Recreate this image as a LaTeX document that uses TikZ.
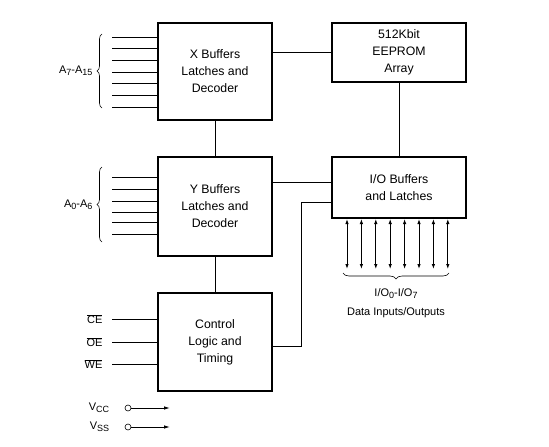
\documentclass[tikz,border=0pt]{standalone}
\usepackage{fontspec}
\setmainfont{Liberation Sans}
\usetikzlibrary{arrows.meta,positioning,calc,decorations.pathreplacing}
\newcommand{\sbs}[1]{\raisebox{-2pt}{\fontsize{9}{9}\selectfont #1}}

\begin{document}
\begin{tikzpicture}[x=1pt,y=-1pt,
  every node/.style={font=\fontsize{11}{13}\selectfont},
  blk/.style={draw,line width=2pt,align=center,inner sep=0pt,
    font=\fontsize{12.3}{17}\selectfont},
  wire/.style={line width=0.9pt},
  bus/.style={{Latex[length=5pt,width=3.5pt]}-{Latex[length=5pt,width=3.5pt]},line width=0.9pt},
  pwr/.style={-{Latex[length=6pt,width=3.5pt]},line width=0.9pt},
  brc/.style={decorate,decoration={brace,amplitude=5pt},line width=0.6pt}]
\useasboundingbox (0,0) rectangle (549,447);
% blocks
\node[blk,minimum width=114pt,minimum height=97pt] (xbuf) at (215,71.5) {X Buffers\\Latches and\\Decoder};
\node[blk,minimum width=114pt,minimum height=99pt] (ybuf) at (215,206.5) {Y Buffers\\Latches and\\Decoder};
\node[blk,minimum width=114pt,minimum height=98pt] (ctrl) at (215,342) {Control\\Logic and\\Timing};
\node[blk,minimum width=134pt,minimum height=59pt] (rom) at (399,52.5) {512Kbit\\EEPROM\\Array};
\node[blk,minimum width=134pt,minimum height=61pt] (iobuf) at (399,187.5) {I/O Buffers\\and Latches};
% links between blocks
\draw[wire] (rom.west) -- (rom.west -| xbuf.east);
\draw[wire] (xbuf.south) -- (ybuf.north);
\draw[wire] (ybuf.south) -- (ctrl.north);
\draw[wire] (rom.south) -- (iobuf.north);
\coordinate (ioa) at ([yshift=5.5pt]iobuf.west);
\coordinate (iob) at ([yshift=-14.5pt]iobuf.west);
\coordinate (cte) at ([yshift=-4pt]ctrl.east);
\draw[wire] (ioa) -- (ioa -| ybuf.east);
\draw[wire] (iob) -- ++(-30,0) |- (cte);
% address inputs
\foreach \y in {37,48.7,60.3,72,83.7,95.3,107}
  \draw[wire] (xbuf.west |- 0,\y) -- ++(-45,0);
\foreach \y in {177,189,201,212,222.5,234}
  \draw[wire] (ybuf.west |- 0,\y) -- ++(-45,0);
\draw[brc] (102,108) -- (102,34) coordinate[midway,xshift=-6pt] (bx);
\draw[brc] (102,242) -- (102,167) coordinate[midway,xshift=-6pt] (by);
\node[anchor=east] (ahi) at (bx) {A\sbs{7}-A\sbs{15}};
\node[anchor=east] (alo) at (by) {A\sbs{0}-A\sbs{6}};
% control inputs
\foreach \n/\y in {CE/319,OE/342,WE/364} {
  \draw[wire] (ctrl.west |- 0,\y) -- ++(-45,0) coordinate (s\n);
  \node[anchor=east] (l\n) at ([xshift=-6pt]s\n) {$\overline{\mbox{\n}}$};
}
% data bus
\foreach \x in {347,361.4,...,448}
  \draw[bus] (iobuf.south -| \x,0) -- ++(0,50);
\draw[brc,decoration={amplitude=6pt}] (449,273) -- (343,273) coordinate[midway,yshift=-8pt] (bd);
\node[below=4pt of bd] (iol) {I/O\sbs{0}-I/O\sbs{7}};
\node[below=2pt of iol] (dio) {Data Inputs/Outputs};
% supplies
\foreach \n/\y in {CC/408,SS/427} {
  \node[draw,circle,inner sep=0pt,minimum size=6pt,line width=0.6pt] (c\n) at (128,\y) {};
  \coordinate (e\n) at (170,\y);
  \draw[pwr] (c\n) -- (e\n);
  \node[anchor=east] (v\n) at ([xshift=-12pt]c\n.west) {V\sbs{\n}};
}
\end{tikzpicture}
\end{document}
